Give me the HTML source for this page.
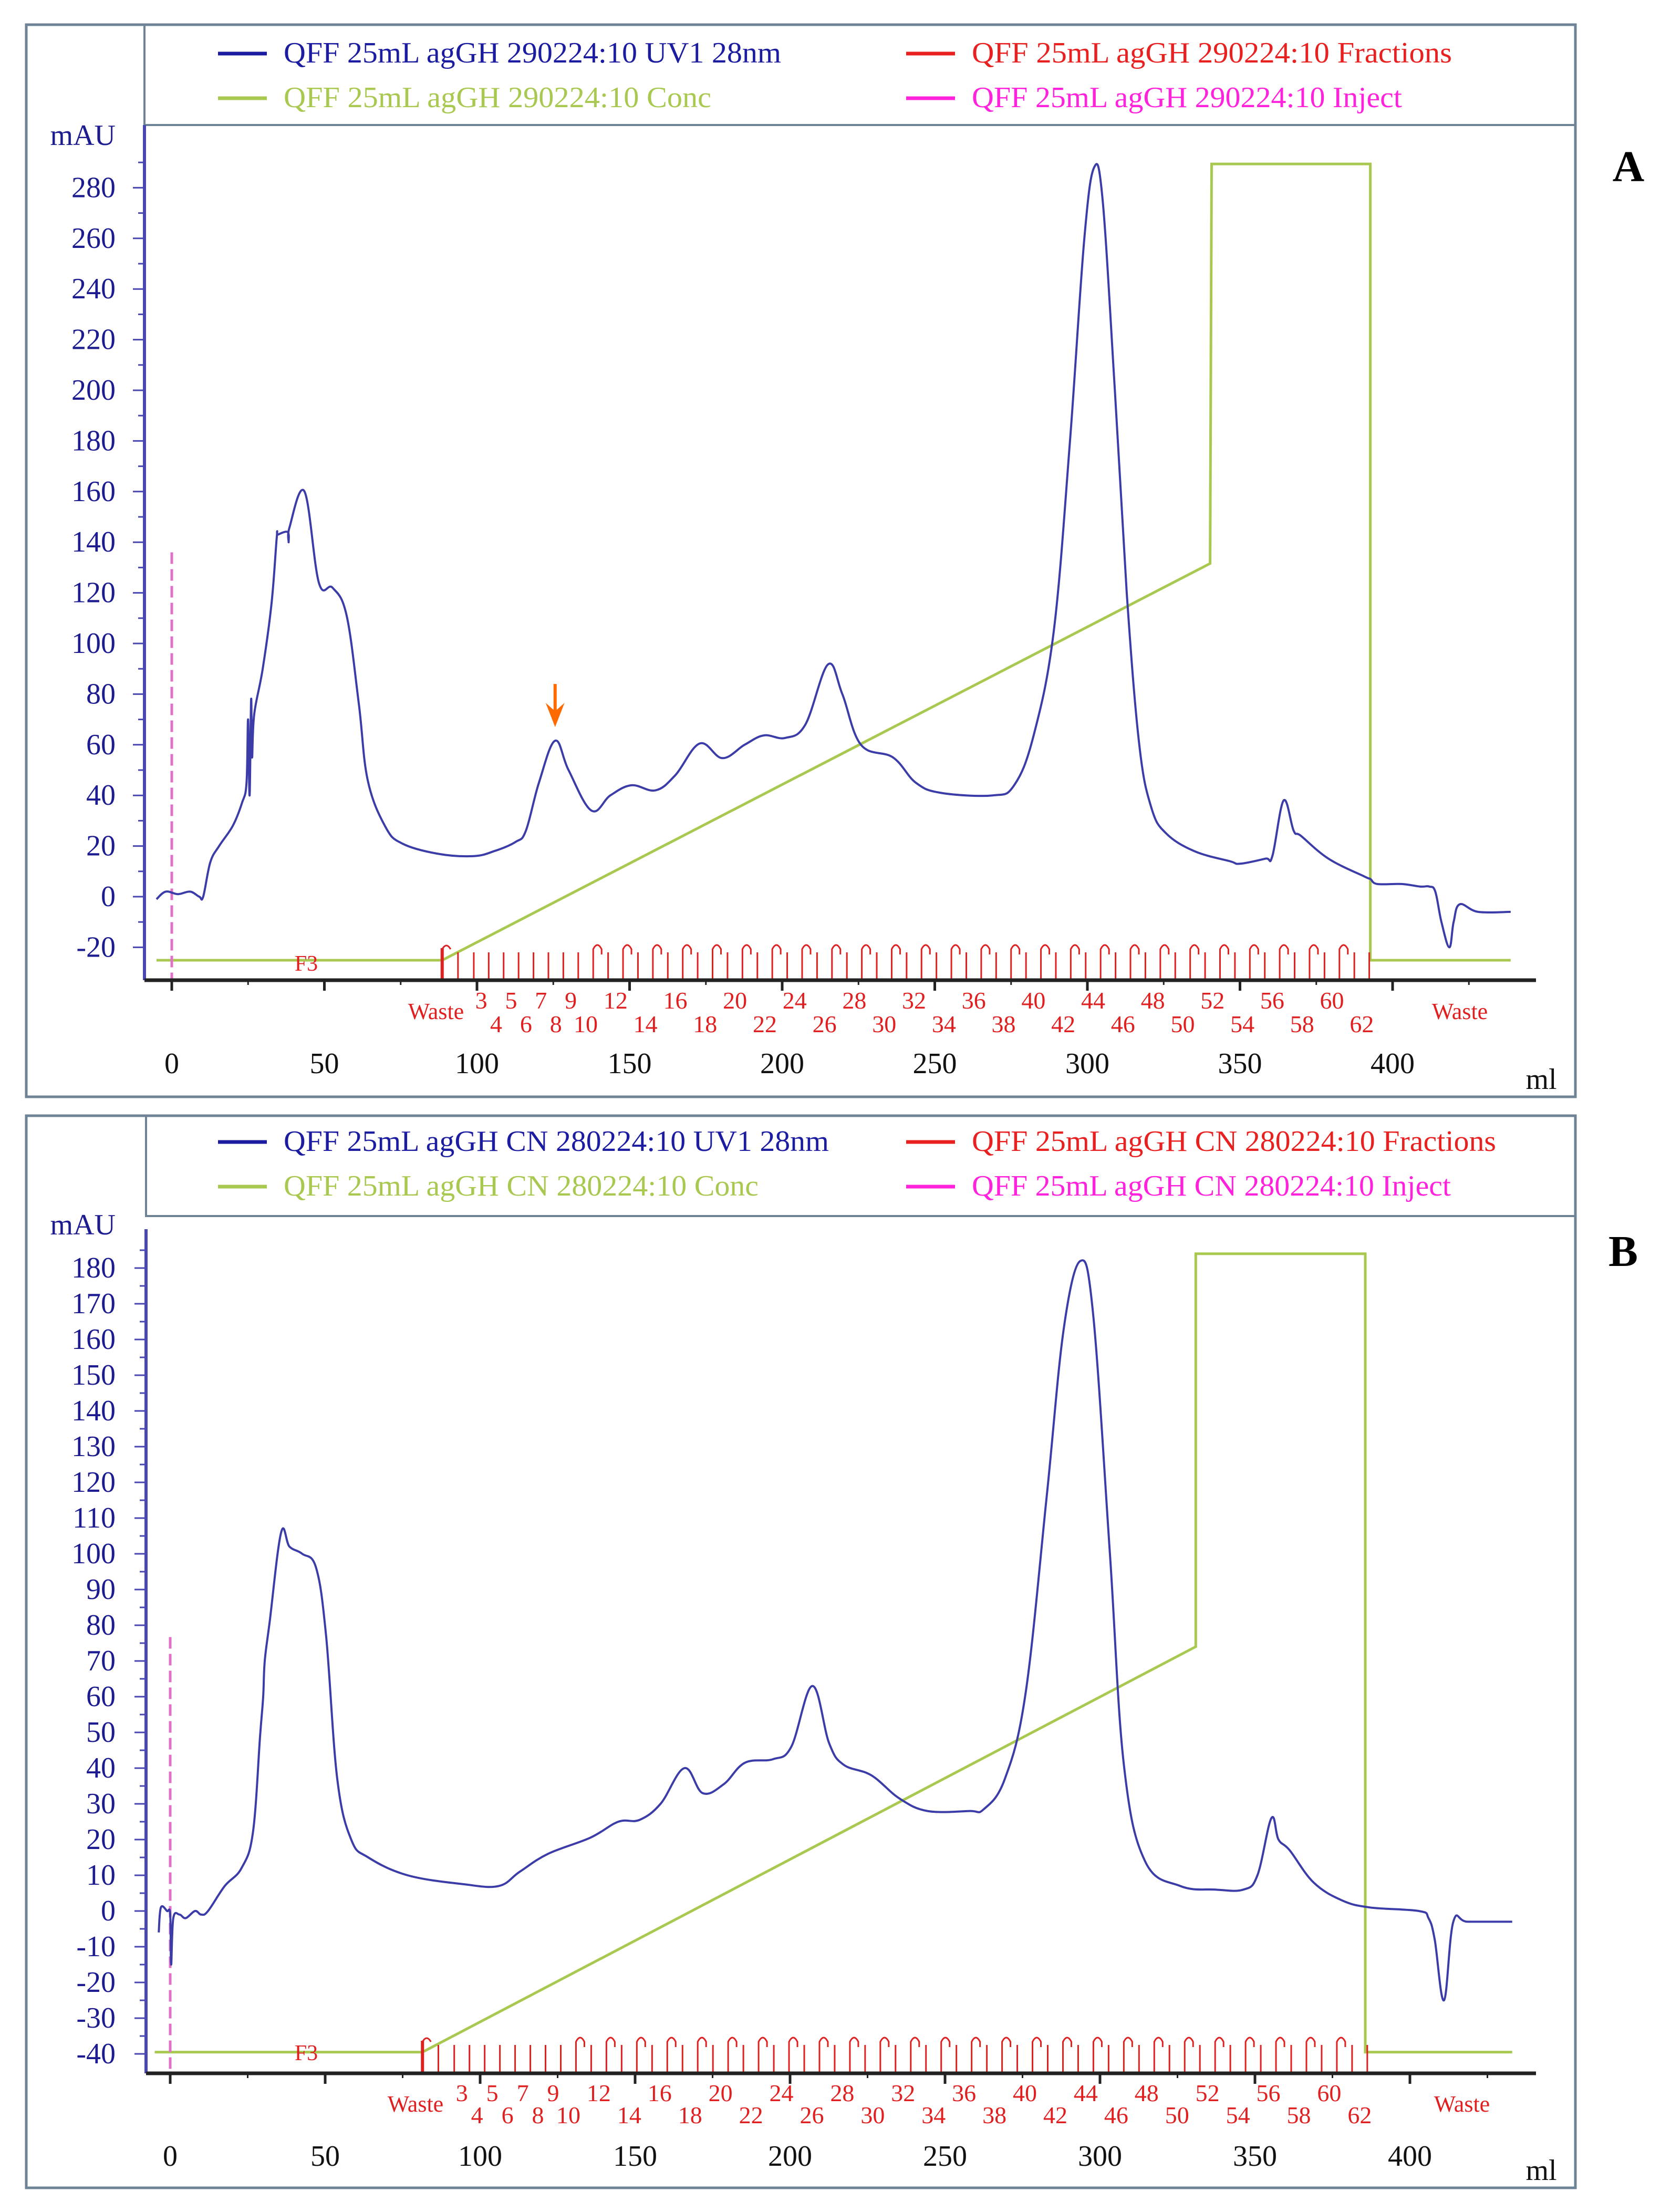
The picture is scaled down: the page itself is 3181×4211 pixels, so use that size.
<!DOCTYPE html>
<html><head><meta charset="utf-8"><style>
html,body{margin:0;padding:0;background:#fff;}
svg{display:block;}
text{font-family:"Liberation Serif",serif;}
</style></head>
<body>
<svg id="chart" xmlns="http://www.w3.org/2000/svg" width="3181" height="4211" viewBox="0 0 3181 4211">
<rect x="0" y="0" width="3181" height="4211" fill="#fff"/>
</svg>
<script>
// ---- Panel A data ----
const uvA_ml = [-5,-2,2,6,9,10.3,12.6,15.5,20,23,24.5,25,25.5,26,26.3,27,29.8,32.7,34.4,34.8,38,38.3,38.6,43.5,48.2,52.7,57.3,61.3,64.2,70,75.5,87,98.7,105.7,112.6,116,120.3,125.6,130,137.5,143.7,150.6,158.5,165,173,180.4,187.7,194,201,207.6,215,219.7,225.8,236.3,243.8,252,269,276,282.4,289,294.3,299,302.2,305,309,312.9,317,321,325.8,335,346.7,350,358.3,360.6,364.3,367.6,370,379,390.7,392.7,395,403,409,412,414,416,418.6,420,422,428,438.7];
const uvA_mau = [-1,2,1,2,0,0,13.5,20,28,37,45,70,40,78,55,72,90,116,142,143,144,140,146,160,124,122,111,76,46,27.6,21,17,16,18,21.6,26,45,61.6,50,34,40,44,42,48,60.5,54.7,60,63.7,62.7,68,91.7,80,60,55,45,41,40,44,63.7,105,180,260,288,275,200,120,60,35,25,18,14,13,15,16,38,26,24,15,8,7,5,5,4,4,2,-10,-20,-10,-3,-6,-6];
const concA_ml = [-5,88.6,340.2,340.7,392.7,392.7,438.7];
const concA_val = [-25.1,-25.1,131.6,289.4,289.4,-25.1,-25.1];
const yTicksA = [-20,0,20,40,60,80,100,120,140,160,180,200,220,240,260,280];
const xTicks = [0,50,100,150,200,250,300,350,400];
const fracRow1 = [3,5,7,9,12,16,20,24,28,32,36,40,44,48,52,56,60];
const fracRow2 = [4,6,8,10,14,18,22,26,30,34,38,42,46,50,54,58,62];
const wasteStartA = 88.6, frac3CenterA = 101.4, fracWidthA = 4.89, injectTopA = 136;
// ---- Panel B data ----
const uvB_ml = [-3.7,-3,-1,0,0.3,1,3,5,8,10,12.2,17.6,23,26.7,29,30,30.5,32.1,35.8,38.5,42.6,47.1,50.3,53.9,58.4,63.9,76.6,94.7,106,112.8,121.9,135.5,144.6,151.4,158.2,165.9,171.8,178.6,185.4,194.5,200.4,207.2,212.6,217.2,226.2,235.3,244.3,257.9,262.5,269.3,276,282.8,288.3,293.7,297.8,303.2,307.7,314.5,325.9,337.2,346.3,350.8,355.3,357.6,361.2,368.9,378,387,402.9,406,408,411,414,418.7,433];
const uvB_mau = [-6,1,0,-1,-15,-2,-1,-2,0,-1,0,7,12,22,49,60,70,81,106,102,100,96,77,37,20,15,10,7.5,7,11,16,20.5,25,25.5,30,40,33,35.5,41.5,42.5,46,63,47,41,38,31.5,28,28,28.5,37,61,116,163,182,167,100,41,14,7,6,6,10,26,20,17,8,3,1,0,-2,-8,-25,-3,-3,-3];
const concB_ml = [-5,81.4,330.9,330.9,385.6,385.6,433];
const concB_val = [-39.5,-39.5,74,184,184,-39.5,-39.5];
const yTicksB = [-40,-30,-20,-10,0,10,20,30,40,50,60,70,80,90,100,110,120,130,140,150,160,170,180];
const wasteStartB = 81.4, frac3CenterB = 94.1, fracWidthB = 4.91, injectTopB = 76.7;

const NS = "http://www.w3.org/2000/svg";
const svg = document.getElementById('chart');
function mk(tag, attrs, parent, txt){
  const e = document.createElementNS(NS, tag);
  for (const k in attrs) e.setAttribute(k, attrs[k]);
  if (txt !== undefined) e.textContent = txt;
  (parent||svg).appendChild(e);
  return e;
}
function smoothPath(pts){
  let d = 'M' + pts[0][0].toFixed(1) + ' ' + pts[0][1].toFixed(1);
  for (let i=0;i<pts.length-1;i++){
    const p0 = pts[Math.max(0,i-1)], p1 = pts[i], p2 = pts[i+1], p3 = pts[Math.min(pts.length-1,i+2)];
    const t = 0.18;
    const c1x = p1[0] + (p2[0]-p0[0])*t, c1y = p1[1] + (p2[1]-p0[1])*t;
    const c2x = p2[0] - (p3[0]-p1[0])*t, c2y = p2[1] - (p3[1]-p1[1])*t;
    d += `C${c1x.toFixed(1)} ${c1y.toFixed(1)} ${c2x.toFixed(1)} ${c2y.toFixed(1)} ${p2[0].toFixed(1)} ${p2[1].toFixed(1)}`;
  }
  return d;
}

function drawPanel(P){
  const g = mk('g', {});
  
  
  const X = v => P.x0 + P.kx * v;
  const Y = v => P.y0 - P.ky * v;

  const ob = mk('rect', {x:50, y:P.top, width:2949, height:P.bottom-P.top, fill:'none', stroke:'#6f8396', 'stroke-width':5}, g);
  
  
  const lb = mk('path', {d:`M${P.axisX} ${P.top} V${P.legBottom} H2999`, fill:'none', stroke:'#6f8396', 'stroke-width':4}, g);
  
  

  const leg = [
    {x:415, y:P.legY1, col:'#1c1ca0', txt:P.names[0], tl:P.tl[0], name:'legend-uv'},
    {x:415, y:P.legY2, col:'#a8c850', txt:P.names[1], tl:P.tl[1], name:'legend-conc'},
    {x:1725, y:P.legY1, col:'#e82020', txt:P.names[2], tl:P.tl[2], name:'legend-fractions'},
    {x:1725, y:P.legY2, col:'#ff22dd', txt:P.names[3], tl:P.tl[3], name:'legend-inject'}
  ];
  leg.forEach(L => {
    const lg = mk('g', {}, g);
    
    
    mk('line', {x1:L.x, x2:L.x+93, y1:L.y, y2:L.y, stroke:L.col, 'stroke-width':7}, lg);
    mk('text', {x:L.x+125, y:L.y+17, 'font-size':56, fill:L.col, textLength:L.tl, lengthAdjust:'spacingAndGlyphs'}, lg, L.txt);
  });

  const ya = mk('line', {x1:P.axisX, x2:P.axisX, y1:P.yAxisTop, y2:P.axisY, stroke:'#4848b0', 'stroke-width':6}, g);
  
  
  const yt = P.yTicks;
  const step = yt[1]-yt[0];
  for (let i=0;i<yt.length;i++){
    const v = yt[i];
    mk('line', {x1:P.axisX-22, x2:P.axisX, y1:Y(v), y2:Y(v), stroke:'#4848b0', 'stroke-width':3}, g);
    const m = v + step/2;
    if (Y(m) > P.yAxisTop) mk('line', {x1:P.axisX-12, x2:P.axisX, y1:Y(m), y2:Y(m), stroke:'#4848b0', 'stroke-width':3}, g);
    const lbl = mk('text', {x:220, y:Y(v)+18, 'font-size':56, fill:'#1c1c90', 'text-anchor':'end'}, g, String(v));
    
    
  }
  const mau = mk('text', {x:220, y:P.mauY, 'font-size':56, fill:'#1c1c90', 'text-anchor':'end'}, g, 'mAU');
  
  

  let d = '';
  P.concMl.forEach((m,i) => { d += (i?'L':'M') + X(m).toFixed(1) + ' ' + Y(P.concVal[i]).toFixed(1); });
  const cl = mk('path', {d:d, fill:'none', stroke:'#a8c850', 'stroke-width':5}, g);
  
  

  const inj = mk('line', {x1:X(0), x2:X(0), y1:Y(P.injectTop), y2:P.axisY, stroke:'#e070c8', 'stroke-width':5, 'stroke-dasharray':'22 10'}, g);
  
  

  const fg = mk('g', {}, g);
  
  
  const wx = X(P.wasteStart);
  mk('line', {x1:wx, x2:wx, y1:P.axisY, y2:P.fracTop-8, stroke:'#e02020', 'stroke-width':6}, fg);
  mk('path', {d:`M${wx} ${P.fracTop-6} q8 -14 16 0`, fill:'none', stroke:'#e02020', 'stroke-width':3}, fg);
  const xExtra = X((P.wasteStart + P.frac3 - P.fw/2)/2);
  mk('line', {x1:xExtra, x2:xExtra, y1:P.axisY, y2:P.fracTop, stroke:'#e02020', 'stroke-width':3}, fg);
  for (let k=3;k<=63;k++){
    const b = P.frac3 + (k-3.5)*P.fw;
    const bx = X(b);
    mk('line', {x1:bx, x2:bx, y1:P.axisY, y2:P.fracTop, stroke:'#e02020', 'stroke-width':3}, fg);
    if (k>=11 && k%2===1 && k<63){
      mk('path', {d:`M${bx} ${P.fracTop} v-6 q8 -16 16 0 v10`, fill:'none', stroke:'#e02020', 'stroke-width':3}, fg);
    }
  }
  fracRow1.forEach(n => {
    const t = mk('text', {x:X(P.frac3+(n-3)*P.fw), y:P.row1, 'font-size':46, fill:'#e02020', 'text-anchor':'middle'}, fg, String(n));
    
    
  });
  fracRow2.forEach(n => {
    const t = mk('text', {x:X(P.frac3+(n-3)*P.fw), y:P.row2, 'font-size':46, fill:'#e02020', 'text-anchor':'middle'}, fg, String(n));
    
    
  });
  mk('text', {x:P.wasteLX, y:P.wasteY, 'font-size':44, fill:'#e02020', 'text-anchor':'middle'}, fg, 'Waste');
  mk('text', {x:P.wasteRX, y:P.wasteY, 'font-size':44, fill:'#e02020', 'text-anchor':'middle'}, fg, 'Waste');
  mk('text', {x:583, y:P.f3Y, 'font-size':42, fill:'#e02020', 'text-anchor':'middle'}, fg, 'F3');

  const pts = P.uvMl.map((m,i) => [X(m), Y(P.uvVal[i])]);
  const uv = mk('path', {d:smoothPath(pts), fill:'none', stroke:'#3c3ca8', 'stroke-width':4, 'stroke-linejoin':'round'}, g);
  
  

  const xa = mk('line', {x1:P.axisX, x2:2924, y1:P.axisY, y2:P.axisY, stroke:'#222', 'stroke-width':7}, g);
  
  
  xTicks.forEach(v => {
    mk('line', {x1:X(v), x2:X(v), y1:P.axisY, y2:P.axisY+20, stroke:'#222', 'stroke-width':5}, g);
    mk('line', {x1:X(v+25), x2:X(v+25), y1:P.axisY, y2:P.axisY+9, stroke:'#222', 'stroke-width':3}, g);
    const t = mk('text', {x:X(v), y:P.xLabY, 'font-size':56, fill:'#111', 'text-anchor':'middle'}, g, String(v));
    
    
  });
  const ml = mk('text', {x:2934, y:P.mlY, 'font-size':56, fill:'#111', 'text-anchor':'middle'}, g, 'ml');
  
  

  const pl = mk('text', {x:P.labX, y:P.labY, 'font-size':84, 'font-weight':'bold', fill:'#000', 'text-anchor':'middle'}, g, P.id);
  
  
  return {g, X, Y};
}

const A = drawPanel({id:'A', top:47, bottom:2088, legBottom:238, axisX:275, axisY:1866, yAxisTop:238,
  x0:327, kx:5.81, y0:1707, ky:4.82, legY1:102, legY2:187, mauY:276,
  names:['QFF 25mL agGH 290224:10 UV1 28nm','QFF 25mL agGH 290224:10 Conc','QFF 25mL agGH 290224:10 Fractions','QFF 25mL agGH 290224:10 Inject'],
  tl:[947,814,914,819],
  yTicks:yTicksA, uvMl:uvA_ml, uvVal:uvA_mau, concMl:concA_ml, concVal:concA_val, injectTop:injectTopA,
  wasteStart:wasteStartA, frac3:frac3CenterA, fw:fracWidthA, fracTop:1813, row1:1920, row2:1965,
  wasteLX:830, wasteRX:2779, wasteY:1940, f3Y:1848, xLabY:2043, mlY:2073, labX:3100, labY:345});

const B = drawPanel({id:'B', top:2124, bottom:4165, legBottom:2315, axisX:278, axisY:3947, yAxisTop:2340,
  x0:324, kx:5.9, y0:3638, ky:6.8, legY1:2174, legY2:2259, mauY:2350,
  names:['QFF 25mL agGH CN 280224:10 UV1 28nm','QFF 25mL agGH CN 280224:10 Conc','QFF 25mL agGH CN 280224:10 Fractions','QFF 25mL agGH CN 280224:10 Inject'],
  tl:[1038,904,998,912],
  yTicks:yTicksB, uvMl:uvB_ml, uvVal:uvB_mau, concMl:concB_ml, concVal:concB_val, injectTop:injectTopB,
  wasteStart:wasteStartB, frac3:frac3CenterB, fw:fracWidthB, fracTop:3893, row1:4000, row2:4042,
  wasteLX:791, wasteRX:2783, wasteY:4020, f3Y:3922, xLabY:4123, mlY:4150, labX:3090, labY:2410});

const arrowMl = 125.6, arrowTop = 84, arrowTip = 67;
const ag = mk('g', {});


const ax = A.X(arrowMl);
mk('line', {x1:ax, x2:ax, y1:A.Y(arrowTop), y2:A.Y(arrowTip)-20, stroke:'#ff6a00', 'stroke-width':6}, ag);
mk('path', {d:`M${ax-18} ${A.Y(arrowTip)-46} L${ax} ${A.Y(arrowTip)} L${ax+18} ${A.Y(arrowTip)-46} L${ax} ${A.Y(arrowTip)-30} Z`, fill:'#ff6a00'}, ag);
</script>
</body></html>
